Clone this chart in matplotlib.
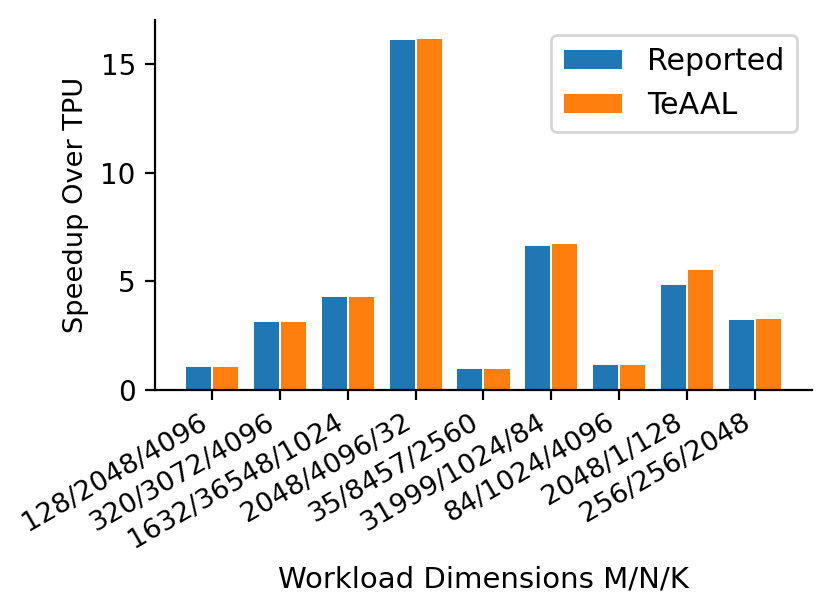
import numpy as np
import matplotlib
matplotlib.use("Agg")
import matplotlib.pyplot as plt

workloads = [
    "128/2048/4096",
    "320/3072/4096",
    "1632/36548/1024",
    "2048/4096/32",
    "35/8457/2560",
    "31999/1024/84",
    "84/1024/4096",
    "2048/1/128",
    "256/256/2048",
]
reported = [1.09, 3.16, 4.35, 16.18, 1.01, 6.70, 1.21, 4.90, 3.26]
teaal = [1.09, 3.16, 4.35, 16.22, 1.01, 6.77, 1.21, 5.57, 3.32]

x = np.arange(len(workloads))
width = 0.4

fig, ax = plt.subplots(figsize=(4.15, 3.075), dpi=200)
fig.subplots_adjust(left=0.187, right=0.978, top=0.967, bottom=0.366)

ax.bar(x - width / 2, reported, width, label="Reported", color="#1f77b4",
       edgecolor="white", linewidth=0.7)
ax.bar(x + width / 2, teaal, width, label="TeAAL", color="#ff7f0e",
       edgecolor="white", linewidth=0.7)

ax.set_xticks(x)
ax.set_xticklabels(workloads, rotation=30, ha="right", fontsize=9.8)
ax.set_yticks([0, 5, 10, 15])
ax.tick_params(axis="y", labelsize=10)
ax.set_xlabel("Workload Dimensions M/N/K", fontsize=10.5)
ax.xaxis.set_label_coords(0.5, -0.475)
ax.set_ylabel("Speedup Over TPU", fontsize=9.8)
ax.spines["top"].set_visible(False)
ax.spines["right"].set_visible(False)
ax.legend(loc="upper right", fontsize=10.8)

fig.savefig("out.png", dpi=200)
